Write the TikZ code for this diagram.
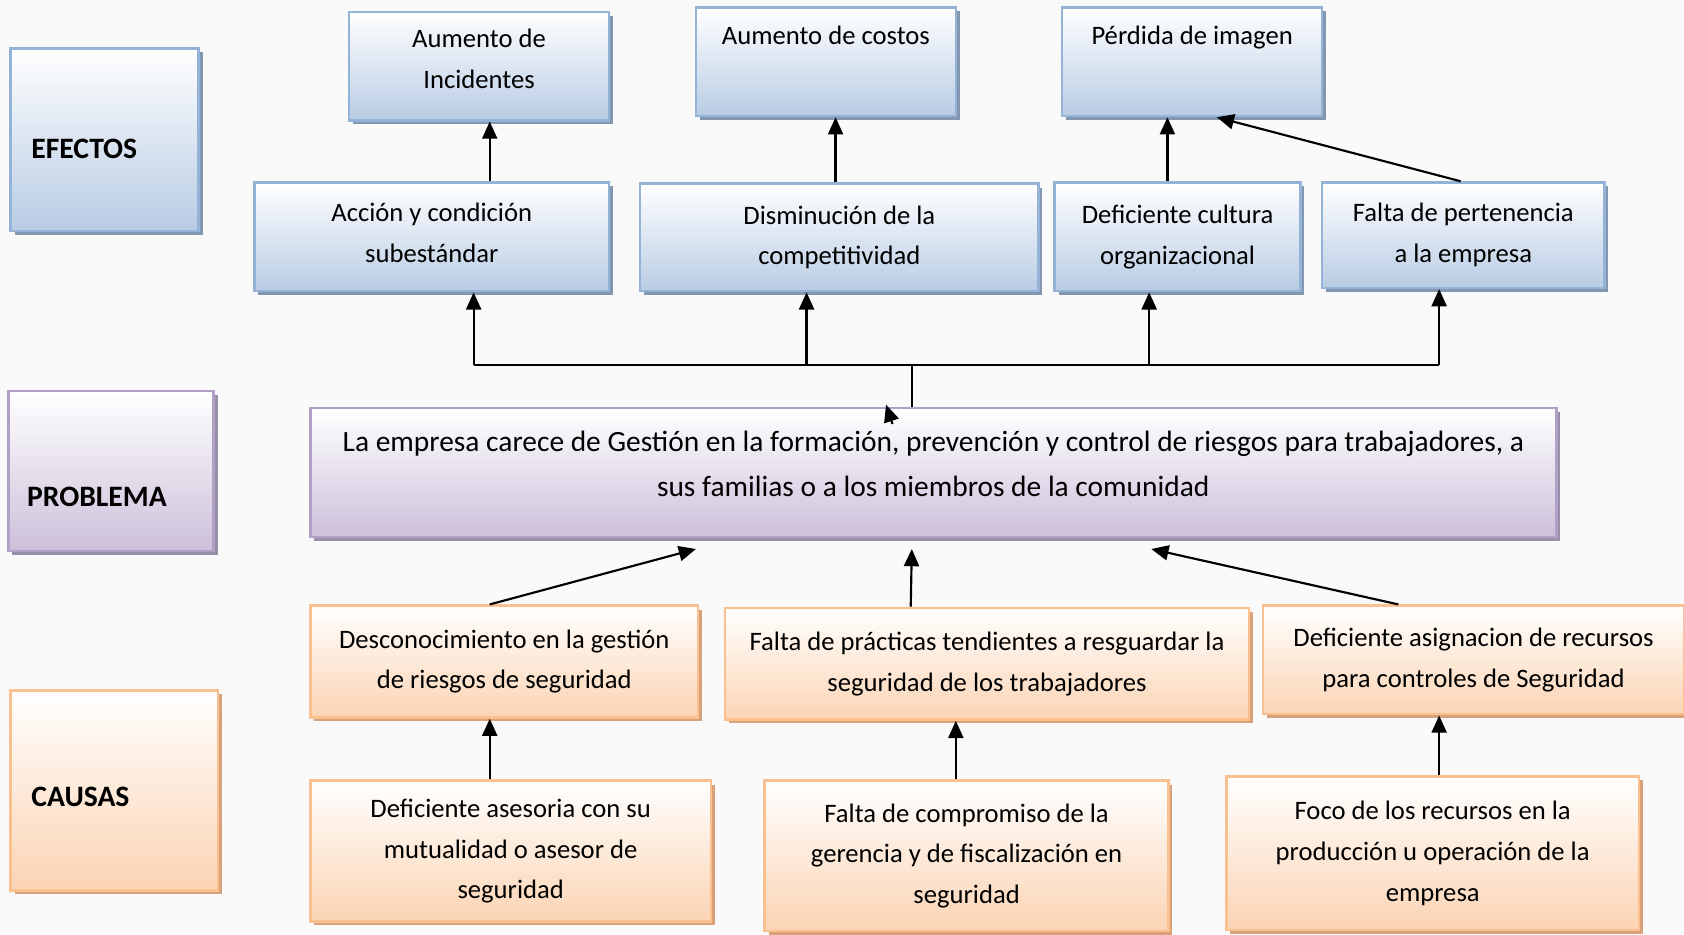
\documentclass[tikz,border=0pt]{standalone}
\usepackage{fontspec}
\setmainfont{Carlito}
\usetikzlibrary{shadows}
\usetikzlibrary{arrows.meta}
\usetikzlibrary{calc}
\definecolor{efFill}{HTML}{B8CCE4}
\definecolor{efLine}{HTML}{95B3D7}
\definecolor{efShadow}{HTML}{8497B0}
\definecolor{prFill}{HTML}{CCC0DA}
\definecolor{prLine}{HTML}{B2A1C7}
\definecolor{prShadow}{HTML}{9A8FA8}
\definecolor{caFill}{HTML}{FBD4B4}
\definecolor{caLine}{HTML}{FAC090}
\definecolor{caShadow}{HTML}{D7A27A}
\tikzset{
	box/.style = {
		rectangle,
		align=center,
		inner sep=2pt,
		font=\fontsize{12.4}{19}\selectfont,
		line width=1.2pt
	},
	box_ef/.style = {
		box,
		draw=efLine,
		top color=white,
		bottom color=efFill,
		drop shadow={shadow xshift=1.8pt, shadow yshift=-1.8pt, fill=efShadow, opacity=1}
	},
	box_pr/.style = {
		box,
		draw=prLine,
		top color=white,
		bottom color=prFill,
		drop shadow={shadow xshift=1.8pt, shadow yshift=-1.8pt, fill=prShadow, opacity=1}
	},
	box_ca/.style = {
		box,
		draw=caLine,
		top color=white,
		bottom color=caFill,
		drop shadow={shadow xshift=1.8pt, shadow yshift=-1.8pt, fill=caShadow, opacity=1}
	},
	box_top/.style = {
		text depth=25pt
	},
	cat_text/.style = {
		anchor=west,
		inner sep=0pt,
		font=\fontsize{13.8}{16}\selectfont\bfseries
	},
	arr/.style = {
		-{Triangle[length=8pt,width=7pt]},
		line width=1pt
	},
}
\begin{document}
\begin{tikzpicture}[x=0.5pt, y=-0.5pt]
\fill[gray!4] (0,0) rectangle (1568,870);
\useasboundingbox (0,0) rectangle (1568,870);

\node[box_ef, minimum width=87.5pt, minimum height=85pt, label={[cat_text, xshift=10pt, yshift=-4.5pt]west:EFECTOS}] (efectos) at (97.5,130) {};
\node[box_pr, minimum width=95.5pt, minimum height=74.5pt, label={[cat_text, xshift=9pt, yshift=-12pt]west:PROBLEMA}] (problema) at (103.5,438.5) {};
\node[box_ca, minimum width=96.5pt, minimum height=93pt, label={[cat_text, xshift=10pt, yshift=-3pt]west:CAUSAS}] (causas) at (106.5,736) {};

\node[box_ef, text depth=7pt, minimum width=121pt, minimum height=50.5pt] (inc) at (446,61.5) {Aumento de\\Incidentes};
\node[box_ef, box_top, minimum width=121pt, minimum height=50.5pt] (cost) at (769,57.5) {Aumento de costos};
\node[box_ef, box_top, minimum width=121pt, minimum height=50.5pt] (imag) at (1110,57.5) {Pérdida de imagen};

\node[box_ef, text depth=4pt, minimum width=165pt, minimum height=50.5pt] (sub) at (402,220.5) {Acción y condición\\subestándar};
\node[box_ef, minimum width=185.5pt, minimum height=50pt] (comp) at (781.5,221) {Disminución de la\\competitividad};
\node[box_ef, minimum width=114.5pt, minimum height=50.5pt] (cult) at (1096.5,220.5) {Deficiente cultura\\organizacional};
\node[box_ef, minimum width=131.5pt, minimum height=49pt] (pert) at (1362.5,219) {Falta de pertenencia\\a la empresa};

\node[box_pr, text depth=8pt, minimum width=580pt, minimum height=60pt, font=\fontsize{13.7}{21}\selectfont] (prob) at (869,440) {La empresa carece de Gestión en la formación, prevención y control de riesgos para trabajadores, a\\sus familias o a los miembros de la comunidad};

\node[box_ca, minimum width=180.5pt, minimum height=52pt] (desc) at (469.5,616) {Desconocimiento en la gestión\\de riesgos de seguridad};
\node[box_ca, minimum width=244pt, minimum height=52pt] (prac) at (919,618) {Falta de prácticas tendientes a resguardar la\\seguridad de los trabajadores};
\node[box_ca, minimum width=196pt, minimum height=50.5pt] (asig) at (1372,614.5) {Deficiente asignacion de recursos\\para controles de Seguridad};

\node[box_ca, minimum width=186.5pt, minimum height=65.5pt] (ases) at (475.5,792.5) {Deficiente asesoria con su\\mutualidad o asesor de\\seguridad};
\node[box_ca, minimum width=188pt, minimum height=70pt] (compr) at (900,797) {Falta de compromiso de la\\gerencia y de fiscalización en\\seguridad};
\node[box_ca, minimum width=192pt, minimum height=71.5pt] (foco) at (1334,794.5) {Foco de los recursos en la\\producción u operación de la\\empresa};

\draw[arr] (sub.north -| 456,0) -- (inc.south -| 456,0);
\draw[arr] (comp.north -| 778,0) -- (cost.south -| 778,0);
\draw[arr] (cult.north -| 1087,0) -- (imag.south -| 1087,0);
\draw[arr] (pert.north -| 1360,0) -- (imag.south -| 1133,0);

\coordinate (hub) at (849,340);
\draw[line width=1pt] (hub -| 441,0) -- (hub -| 1340,0);
\draw[line width=1pt] (hub) -- (prob.north -| hub);
\draw[arr] (hub -| 441,0) -- (sub.south -| 441,0);
\draw[arr] (hub -| 751,0) -- (comp.south -| 751,0);
\draw[arr] (hub -| 1070,0) -- (cult.south -| 1070,0);
\draw[arr] (hub -| 1340,0) -- (pert.south -| 1340,0);
\draw[arr] ($(prob.north -| 831,0)+(0,16)$) -- ($(prob.north -| 825,0)+(0,-2)$);

\draw[arr] (desc.north -| 456,0) -- ($(prob.south -| 648,0)+(0,10)$);
\draw[arr] (prac.north -| 848,0) -- ($(prob.south -| 849,0)+(0,10)$);
\draw[arr] (asig.north -| 1302,0) -- ($(prob.south -| 1072,0)+(0,10)$);

\draw[arr] (ases.north -| 456,0) -- (desc.south -| 456,0);
\draw[arr] (compr.north -| 890,0) -- (prac.south -| 890,0);
\draw[arr] (foco.north -| 1340,0) -- (asig.south -| 1340,0);
\end{tikzpicture}
\end{document}
